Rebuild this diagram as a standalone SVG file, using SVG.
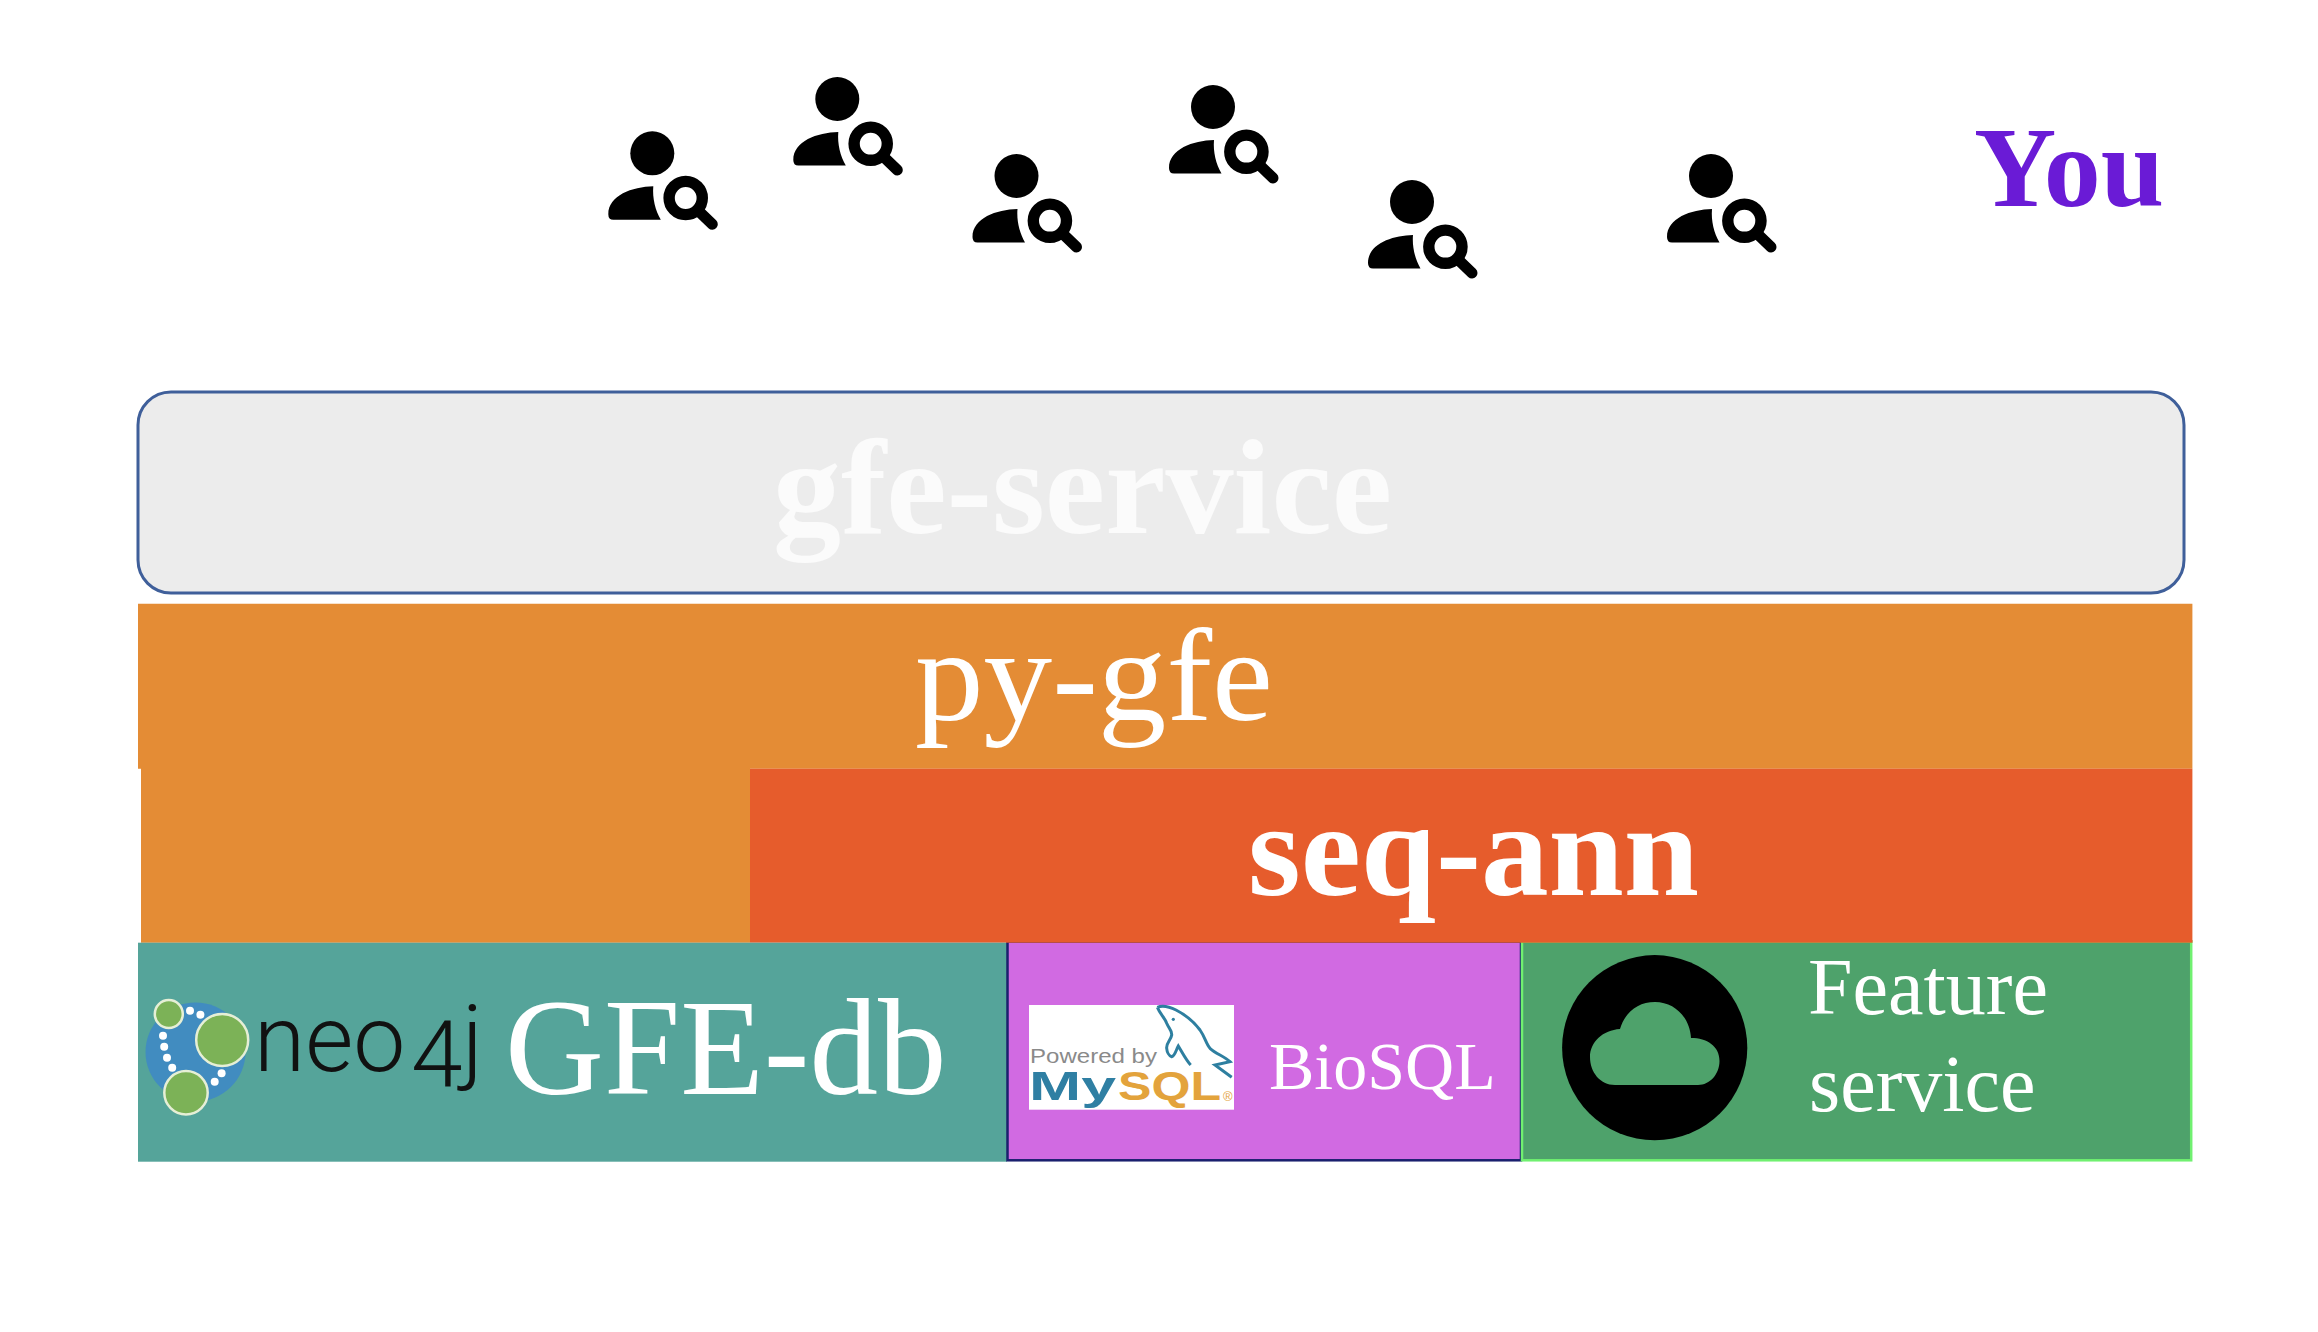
<svg xmlns="http://www.w3.org/2000/svg" width="2318" height="1332" viewBox="0 0 2318 1332">
<style>
text{font-family:"Liberation Serif","Times New Roman",serif;fill:#fff}
.b{font-weight:700}
.sans{font-family:"Liberation Sans",Arial,sans-serif}
.dot{fill:#fff}
.gn{fill:#7cb257;stroke:#e6efd6;stroke-width:2.5}
.neo{font-family:Roboto,sans-serif;fill:#111;font-weight:300}
</style>
<defs>
<g id="user">
<circle cx="0" cy="0" r="22"/>
<path d="M8.5 66.5H-39Q-44 66.5-44 61C-44 42-20 33.5 1 33C0 45 3 57 8.5 66.5Z"/>
<circle cx="33.4" cy="44.7" r="16.6" fill="none" stroke="#000" stroke-width="11.4"/>
<path d="M46 57.5L60 71" fill="none" stroke="#000" stroke-width="11" stroke-linecap="round"/>
</g>
</defs>
<rect width="2318" height="1332" fill="#fff"/>
<g id="users">
<use href="#user" x="652.3" y="153.3"/>
<use href="#user" x="837.3" y="99"/>
<use href="#user" x="1016.5" y="176"/>
<use href="#user" x="1213" y="107"/>
<use href="#user" x="1412" y="202"/>
<use href="#user" x="1711" y="176"/>
</g>
<g id="you"><text class="b" x="1974" y="205.5" font-size="114" style="fill:#6a1bd6">You</text></g>
<g id="gfe-service">
<rect x="138" y="392" width="2046" height="201" rx="33" fill="#ececec" stroke="#3f5f9a" stroke-width="3"/>
<text class="b" x="773" y="532.5" font-size="136" style="fill:#fbfbfb">gfe-service</text>
</g>
<g id="py-gfe">
<path d="M138 603.7H2192.4V768.7H750V942.7H141V768.7H138Z" fill="#e48c35"/>
<text x="915" y="719.5" font-size="131" textLength="358" lengthAdjust="spacingAndGlyphs">py-gfe</text>
</g>
<g id="seq-ann">
<rect x="750" y="768.7" width="1442.4" height="174" fill="#e65c2c"/>
<text class="b" x="1248" y="895" font-size="134" textLength="451" lengthAdjust="spacingAndGlyphs">seq-ann</text>
</g>
<g id="gfe-db">
<rect x="138" y="942.7" width="869" height="219" fill="#55a49a"/>
<ellipse cx="195.5" cy="1052" rx="50" ry="49.5" fill="#418cc0"/>
<circle class="gn" cx="168.8" cy="1014" r="14"/>
<circle class="gn" cx="222.2" cy="1040" r="26"/>
<circle class="gn" cx="186" cy="1092.7" r="21.7"/>
<circle class="dot" cx="190" cy="1010.7" r="4"/><circle class="dot" cx="200.4" cy="1014.7" r="4"/>
<circle class="dot" cx="163" cy="1035.7" r="4"/><circle class="dot" cx="164.2" cy="1046.7" r="4"/>
<circle class="dot" cx="167" cy="1057.7" r="4"/><circle class="dot" cx="172.2" cy="1067.7" r="4"/>
<circle class="dot" cx="221.6" cy="1073.3" r="4"/><circle class="dot" cx="214.7" cy="1081.7" r="4"/>
<text class="neo" font-size="93"><tspan x="254" y="1070.7">neo</tspan><tspan x="411" y="1087">4</tspan><tspan x="462" y="1070.7">j</tspan></text>
<text x="505" y="1094" font-size="137">GFE-db</text>
</g>
<g id="biosql">
<rect x="1007.5" y="941.5" width="513.5" height="218.8" fill="#d16ae2" stroke="#1a1f6e" stroke-width="2.5"/>
<rect x="1029" y="1005" width="205" height="104.7" fill="#fff"/>
<text class="sans" x="1030" y="1063" font-size="20" textLength="127" lengthAdjust="spacingAndGlyphs" style="fill:#8a8a8a">Powered by</text>
<text class="sans b" x="1029" y="1100.3" font-size="41" textLength="87" lengthAdjust="spacingAndGlyphs" style="fill:#2f7fa3">My</text>
<text class="sans b" x="1118" y="1100.3" font-size="41" textLength="103" lengthAdjust="spacingAndGlyphs" style="fill:#e3a33c">SQL</text>
<text class="sans" x="1223" y="1101" font-size="13" style="fill:#e3a33c">®</text>
<path d="M1157.3 1007.3C1163 1005 1170 1007 1176 1010C1186 1015 1194 1022 1200 1030C1205 1037 1206 1044 1210 1048.3C1216 1054 1224 1056 1230 1061.7L1215 1065L1231.7 1077.3M1157.3 1007.3C1160 1014 1165 1018 1166.7 1023.3C1169 1029 1172 1030 1171.7 1035C1171 1040 1166 1043 1166.7 1048.3C1167 1052 1169 1056 1171.7 1056.7C1175 1056 1176 1050 1178.3 1046C1182 1052 1186 1060 1190.7 1065" fill="none" stroke="#2e7fa0" stroke-width="3"/>
<circle cx="1173.3" cy="1019.3" r="1.6" fill="#2e7fa0"/>
<text x="1269" y="1089" font-size="68">BioSQL</text>
</g>
<g id="feature-service">
<rect x="1522" y="941.5" width="669.2" height="218.8" fill="#4ea26b" stroke="#70f070" stroke-width="2.5"/>
<rect x="1006" y="940" width="1186.4" height="2.7" fill="#e65c2c"/>
<circle cx="1654.7" cy="1047.7" r="92.6"/>
<path d="M1615 1085C1600 1085 1590 1072 1590 1057C1590 1042 1603 1030 1620 1029C1625 1012 1638 1002 1655 1002C1675 1002 1690 1018 1691 1038C1707 1038 1719.5 1046 1719.5 1061C1719.5 1074 1710 1085 1698 1085Z" fill="#4ea26b"/>
<text x="1808" y="1014" font-size="80">Feature</text>
<text x="1809" y="1111" font-size="80">service</text>
</g>
</svg>
